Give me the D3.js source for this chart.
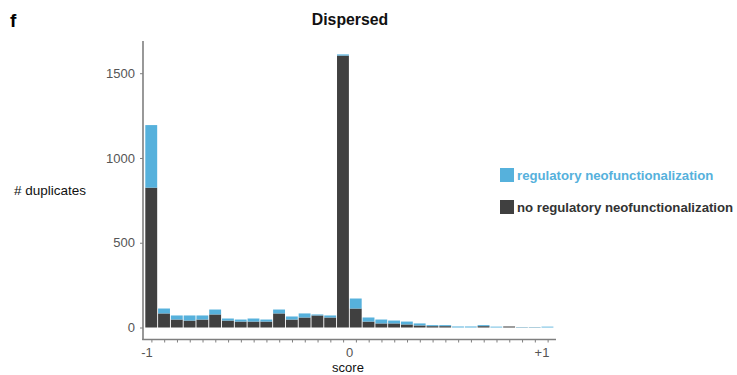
<html>
<head>
<script src="https://d3js.org/d3.v7.min.js"></script>
<style>
  body { margin: 0; background: #fff; }
  text { font-family: "Liberation Sans", Arial, Helvetica, sans-serif; }
</style>
</head>
<body>
<svg class="chart" width="737" height="375"></svg>
<script>
  // lower edge of each score bin
  var binStart = [-1, -0.9375, -0.875, -0.8125, -0.75, -0.6875, -0.625, -0.5625,
                  -0.5, -0.4375, -0.375, -0.3125, -0.25, -0.1875, -0.125, -0.0625,
                  0, 0.0625, 0.125, 0.1875, 0.25, 0.3125, 0.375, 0.4375,
                  0.5, 0.5625, 0.625, 0.6875, 0.75, 0.8125, 0.875, 0.9375];
  var binWidth = 0.0625;
  var noReg = [825, 83, 47, 41, 47, 77, 41, 35, 35, 35, 83, 47, 59, 71, 59, 1604,
               112, 35, 24, 24, 18, 12, 8, 8, 0, 0, 8, 0, 6, 1, 1, 0];
  var reg = [369, 29, 24, 30, 24, 29, 12, 12, 18, 12, 23, 18, 24, 6, 12, 7,
             59, 24, 23, 17, 17, 12, 6, 6, 6, 6, 6, 5, 0, 2, 2, 5];
  var yTicks = [0, 500, 1000, 1500];
  var xLabels = [{v: -1, t: "-1"}, {v: 0, t: "0"}, {v: 1, t: "+1"}];
  var legendItems = [{key: "reg", label: "regulatory neofunctionalization"},
                     {key: "no", label: "no regulatory neofunctionalization"}];

  var colors = {reg: "#56b1dc", no: "#404040"};
  var legendText = {reg: "#56b1dc", no: "#333333"};

  var svg = d3.select("svg");

  var x = d3.scaleLinear().domain([-1, 1]).range([145, 554]);
  var y = d3.scaleLinear().domain([0, 1690]).range([327.5, 41]);

  var rows = binStart.map((d, i) => ({lo: d, no: noReg[i], reg: reg[i]}));
  var series = d3.stack().keys(["no", "reg"])(rows);

  svg.append("g").selectAll("g")
    .data(series)
    .enter()
    .append("g")
    .attr("fill", d => colors[d.key])
    .selectAll("rect")
    .data(d => d)
    .enter()
    .append("rect")
    .attr("x", d => x(d.data.lo) + 0.3)
    .attr("width", d => x(d.data.lo + binWidth) - x(d.data.lo) - 0.9)
    .attr("y", d => y(d[1]))
    .attr("height", d => Math.max(0, y(d[0]) - y(d[1])));

  // axes
  var axisColor = "#7f7f7f";
  var yAxis = d3.axisLeft(y).tickValues(yTicks).tickSize(3).tickPadding(5)
    .tickFormat(d3.format("d"));
  var gy = svg.append("g").attr("transform", "translate(143,0)").call(yAxis);
  gy.select(".domain").remove();
  gy.selectAll("line").attr("stroke", axisColor);
  gy.selectAll("text").attr("fill", "#555").style("font-size", "13px");
  svg.append("line").attr("x1", 143).attr("x2", 143)
    .attr("y1", y.range()[1]).attr("y2", 340)
    .attr("stroke", axisColor).attr("stroke-width", 1.6);

  var xAxis = d3.axisBottom(x)
    .tickValues(binStart.map(d => d + binWidth / 2))
    .tickSize(3).tickFormat("");
  var gx = svg.append("g").attr("transform", "translate(0,339.5)").call(xAxis);
  gx.select(".domain").remove();
  gx.selectAll("line").attr("stroke", axisColor);
  svg.append("line").attr("x1", 142.2).attr("x2", 556)
    .attr("y1", 339.5).attr("y2", 339.5)
    .attr("stroke", axisColor).attr("stroke-width", 1.6);

  svg.selectAll(".xlab")
    .data(xLabels)
    .enter()
    .append("text")
    .attr("class", "xlab")
    .attr("x", d => x(d.v) + (d.v === 1 ? -12 : d.v === -1 ? 2 : 0))
    .attr("y", 357)
    .attr("text-anchor", "middle")
    .attr("fill", "#555")
    .style("font-size", "13px")
    .text(d => d.t);

  svg.append("text").attr("x", 348).attr("y", 372)
    .attr("text-anchor", "middle").style("font-size", "13px")
    .attr("fill", "#111").text("score");

  svg.append("text").attr("x", 14).attr("y", 195)
    .style("font-size", "13.5px").attr("fill", "#111").text("# duplicates");

  svg.append("text").attr("x", 350).attr("y", 25)
    .attr("text-anchor", "middle").style("font-size", "15.8px")
    .style("font-weight", "bold").attr("fill", "#111").text("Dispersed");

  svg.append("text").attr("x", 10).attr("y", 27)
    .style("font-size", "19px").style("font-weight", "bold")
    .attr("fill", "#000").text("f");

  // legend
  var lg = svg.selectAll(".legend")
    .data(legendItems)
    .enter()
    .append("g")
    .attr("class", "legend")
    .attr("transform", (d, i) => "translate(500," + (168 + i * 32) + ")");
  lg.append("rect").attr("width", 14).attr("height", 14)
    .attr("fill", d => colors[d.key]);
  lg.append("text").attr("x", 17).attr("y", 11.5)
    .style("font-size", "13.2px").style("font-weight", "bold")
    .attr("fill", d => legendText[d.key])
    .text(d => d.label);
</script>
</body>
</html>
